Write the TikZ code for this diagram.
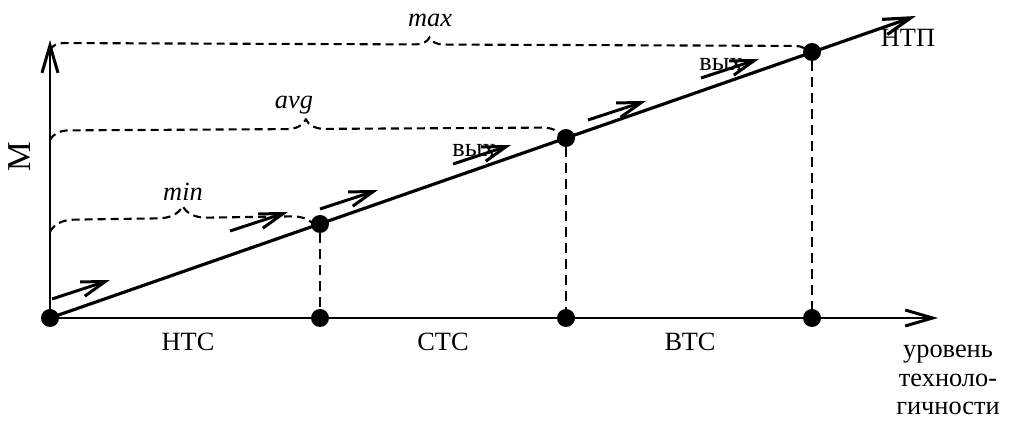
\documentclass[tikz,border=0pt]{standalone}
\usepackage{fontspec}
\setmainfont{Liberation Serif}
\usepackage{tikz}
\usetikzlibrary{arrows.meta,decorations.pathreplacing}
\tikzset{
  dot/.style={circle,fill=black,inner sep=0pt,minimum size=0.36cm},
  axisarr/.style={-{Straight Barb[length=5.5mm,width=3.2mm]},line width=1.7pt},
  mainarr/.style={-{Straight Barb[length=5.5mm,width=3.2mm]},line width=1.8pt},
  flowarr/.style={-{Straight Barb[length=4.8mm,width=3mm]},line width=1.7pt},
  dropline/.style={line width=1.4pt,dash pattern=on 0.2cm off 0.12cm},
  levelbrace/.style={decorate,line width=1.2pt,dash pattern=on 0.16cm off 0.1cm},
  lbl/.style={font=\fontsize{15}{18}\selectfont,inner sep=0pt},
  bracelbl/.style={font=\fontsize{15}{18}\selectfont\itshape,inner sep=0pt},
}
\begin{document}
\begin{tikzpicture}[x=0.02cm,y=-0.02cm]
  \useasboundingbox (0,0) rectangle (1014,421);

  % axes and the main line
  \node[dot] (o) at (50,318) {};
  \coordinate (ytop) at (50,40);
  \coordinate (xend) at (938,318);
  \coordinate (ntpend) at (916,16);
  \draw[axisarr] (o.center) -- (ytop);
  \draw[axisarr] (o.center) -- (xend);
  \draw[mainarr] (o.center) -- (ntpend);

  % levels on the line, dropped to the axis
  \foreach \i/\x/\y in {1/320/224, 2/566/138, 3/812/52} {
    \node[dot] (l\i) at (\x,\y) {};
    \node[dot] (a\i) at (\x,318) {};
    \draw[dropline] (l\i) -- (a\i);
  }

  % braces
  \draw[levelbrace,decoration={brace,amplitude=0.48cm}] (50,232) -- (316,228);
  \draw[levelbrace,decoration={brace,amplitude=0.38cm}] (50,140) -- (562,137);
  \draw[levelbrace,decoration={brace,amplitude=0.28cm}] (50,50) -- (809,53);
  \node[bracelbl] (minl) at (183,192) {min};
  \node[bracelbl] (avgl) at (294,105) {avg};
  \node[bracelbl] (maxl) at (430,20) {max};

  % small flow arrows
  \foreach \sx/\sy in {52/299, 230/231, 320/209, 453/164, 588/120, 701/78}
    \draw[flowarr] (\sx,\sy) -- ++(58,-19);
  \node[lbl,anchor=west] (out1) at (452,150) {вых};
  \node[lbl,anchor=west] (out2) at (699,64) {вых};

  % texts
  \node[lbl] (nts) at (188,342) {НТС};
  \node[lbl] (sts) at (443,342) {СТС};
  \node[lbl] (vts) at (690,342) {ВТС};
  \node[lbl] (ntp) at (908,38) {НТП};
  \node[lbl,rotate=90,font=\fontsize{19}{20}\selectfont] (m) at (20,157) {М};
  \node[lbl,align=center,font=\fontsize{15}{16.5}\selectfont] (lvl) at (948,380)
    {уровень\\[-0.5pt]техноло-\\[-0.5pt]гичности};
\end{tikzpicture}
\end{document}
